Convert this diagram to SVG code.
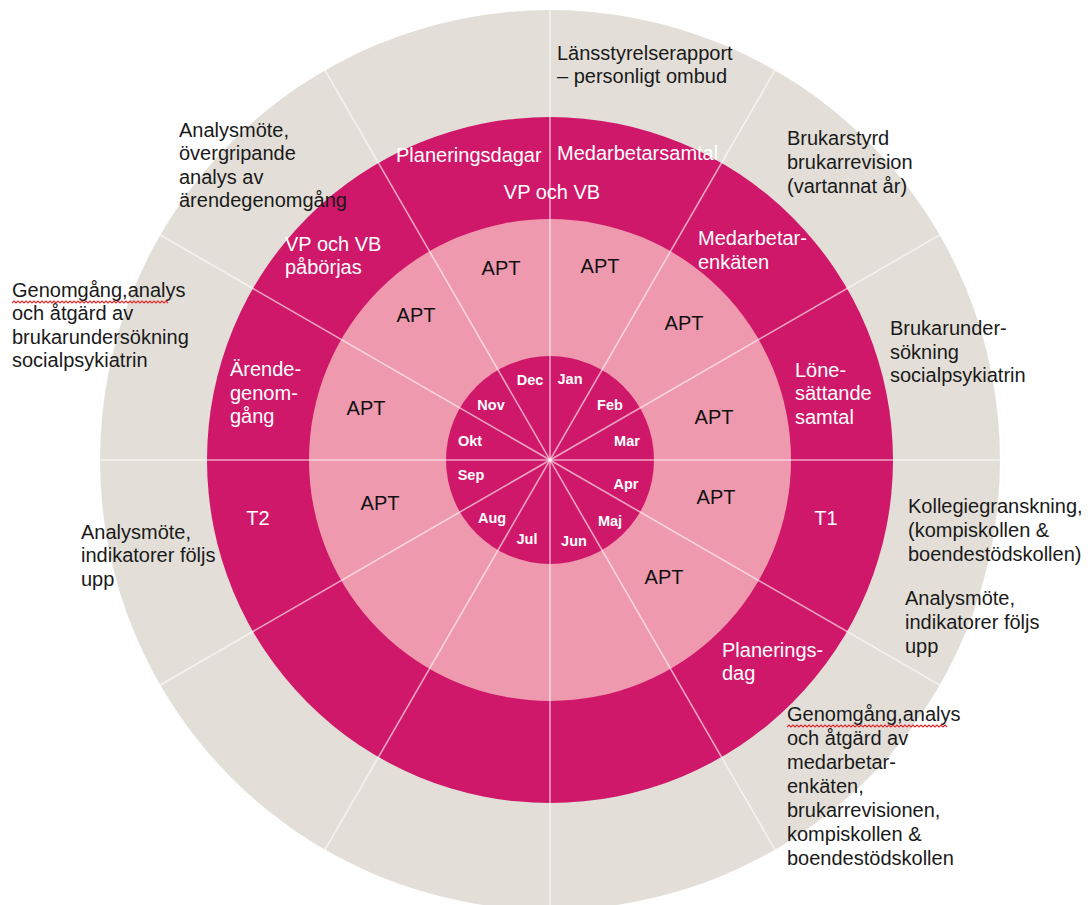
<svg xmlns="http://www.w3.org/2000/svg" width="1090" height="905" viewBox="0 0 1090 905">
<style>
.t{font-family:"Liberation Sans",Arial,sans-serif;font-size:20px;fill:#1a1a1a}
.w{font-family:"Liberation Sans",Arial,sans-serif;font-size:20px;fill:#ffffff}
.m{font-family:"Liberation Sans",Arial,sans-serif;font-size:14.5px;font-weight:bold;fill:#ffffff;text-anchor:middle}
.a{font-family:"Liberation Sans",Arial,sans-serif;font-size:20px;fill:#111;text-anchor:middle}
.c{text-anchor:middle}
.sp{fill:none;stroke:#e5262b;stroke-width:1.1}
.ln{stroke:#ffffff;stroke-opacity:0.6;stroke-width:1.6}
</style>
<rect width="1090" height="905" fill="#ffffff"/>
<g id="rings">
<circle id="outer-ring" cx="550" cy="460" r="450" fill="#E3DFD8"/>
<circle id="magenta-ring" cx="550" cy="460" r="343" fill="#D0186A"/>
<circle id="pink-ring" cx="550" cy="460" r="241" fill="#EF99AF"/>
<circle id="month-disc" cx="550" cy="460" r="104" fill="#D0186A"/>
</g>
<g id="connectors">
<line class="ln" x1="550" y1="10" x2="550" y2="910"/>
<line class="ln" x1="775" y1="70.3" x2="325" y2="849.7"/>
<line class="ln" x1="939.7" y1="235" x2="160.3" y2="685"/>
<line class="ln" x1="100" y1="460" x2="1000" y2="460"/>
<line class="ln" x1="939.7" y1="685" x2="160.3" y2="235"/>
<line class="ln" x1="775" y1="849.7" x2="325" y2="70.3"/>
</g>
<g id="months">
<text class="m" x="570" y="384">Jan</text>
<text class="m" x="610" y="410">Feb</text>
<text class="m" x="627" y="446">Mar</text>
<text class="m" x="626" y="489">Apr</text>
<text class="m" x="610" y="526">Maj</text>
<text class="m" x="574" y="546">Jun</text>
<text class="m" x="527" y="544">Jul</text>
<text class="m" x="492" y="523">Aug</text>
<text class="m" x="471" y="480">Sep</text>
<text class="m" x="470" y="446">Okt</text>
<text class="m" x="491" y="410">Nov</text>
<text class="m" x="530" y="385">Dec</text>
</g>
<g id="apt">
<text class="a" x="501" y="275">APT</text>
<text class="a" x="600" y="273">APT</text>
<text class="a" x="416" y="322">APT</text>
<text class="a" x="684" y="330">APT</text>
<text class="a" x="366" y="415">APT</text>
<text class="a" x="714" y="424">APT</text>
<text class="a" x="380" y="510">APT</text>
<text class="a" x="716" y="504">APT</text>
<text class="a" x="664" y="584">APT</text>
</g>
<g id="magenta-labels">
<g id="planeringsdagar"><text class="w" x="396" y="162">Planeringsdagar</text></g>
<g id="medarbetarsamtal"><text class="w" x="557" y="160">Medarbetarsamtal</text></g>
<g id="vp-vb"><text class="w c" x="552" y="199">VP och VB</text></g>
<g id="vp-vb-paborjas"><text class="w" x="285" y="251">VP och VB</text><text class="w" x="285" y="274">påbörjas</text></g>
<g id="medarbetarenkaten"><text class="w" x="698" y="245">Medarbetar-</text><text class="w" x="698" y="269">enkäten</text></g>
<g id="arendegenomgang"><text class="w" x="230" y="376">Ärende-</text><text class="w" x="230" y="400">genom-</text><text class="w" x="230" y="423">gång</text></g>
<g id="lonesattande"><text class="w" x="795" y="377">Löne-</text><text class="w" x="795" y="400">sättande</text><text class="w" x="795" y="424">samtal</text></g>
<g id="t2"><text class="w c" x="258" y="525">T2</text></g>
<g id="t1"><text class="w c" x="826" y="525">T1</text></g>
<g id="planeringsdag"><text class="w" x="722" y="657">Planerings-</text><text class="w" x="722" y="680">dag</text></g>
</g>
<g id="outer-labels">
<g id="lansstyrelse"><text class="t" x="557" y="60">Länsstyrelserapport</text><text class="t" x="557" y="83">– personligt ombud</text></g>
<g id="analysmote-top"><text class="t" x="179" y="137">Analysmöte,</text><text class="t" x="179" y="160">övergripande</text><text class="t" x="179" y="184">analys av</text><text class="t" x="179" y="207">ärendegenomgång</text></g>
<g id="brukarstyrd"><text class="t" x="787" y="145">Brukarstyrd</text><text class="t" x="787" y="169">brukarrevision</text><text class="t" x="787" y="193">(vartannat år)</text></g>
<g id="genomgang-left"><text class="t" x="12" y="297">Genomgång,analys</text><text class="t" x="12" y="320">och åtgärd av</text><text class="t" x="12" y="344">brukarundersökning</text><text class="t" x="12" y="367">socialpsykiatrin</text>
<path class="sp" d="M12 303 l2 -2 l2 2 l2 -2 l2 2 l2 -2 l2 2 l2 -2 l2 2 l2 -2 l2 2 l2 -2 l2 2 l2 -2 l2 2 l2 -2 l2 2 l2 -2 l2 2 l2 -2 l2 2 l2 -2 l2 2 l2 -2 l2 2 l2 -2 l2 2 l2 -2 l2 2 l2 -2 l2 2 l2 -2 l2 2 l2 -2 l2 2 l2 -2 l2 2 l2 -2 l2 2 l2 -2 l2 2 l2 -2 l2 2 l2 -2 l2 2 l2 -2 l2 2 l2 -2 l2 2 l2 -2 l2 2 l2 -2 l2 2 l2 -2 l2 2 l2 -2 l2 2 l2 -2 l2 2 l2 -2 l2 2 l2 -2 l2 2 l2 -2 l2 2 l2 -2 l2 2 l2 -2 l2 2 l2 -2 l2 2 l2 -2 l2 2 l2 -2 l2 2 l2 -2 l2 2 l2 -2 l2 2"/></g>
<g id="brukarundersokning"><text class="t" x="890" y="335">Brukarunder-</text><text class="t" x="890" y="359">sökning</text><text class="t" x="890" y="382">socialpsykiatrin</text></g>
<g id="analysmote-left"><text class="t" x="81" y="539">Analysmöte,</text><text class="t" x="81" y="562">indikatorer följs</text><text class="t" x="81" y="586">upp</text></g>
<g id="kollegiegranskning"><text class="t" x="908" y="513">Kollegiegranskning,</text><text class="t" x="908" y="537">(kompiskollen &amp;</text><text class="t" x="908" y="561">boendestödskollen)</text></g>
<g id="analysmote-right"><text class="t" x="905" y="605">Analysmöte,</text><text class="t" x="905" y="629">indikatorer följs</text><text class="t" x="905" y="653">upp</text></g>
<g id="genomgang-right"><text class="t" x="787" y="721">Genomgång,analys</text><text class="t" x="787" y="745">och åtgärd av</text><text class="t" x="787" y="769">medarbetar-</text><text class="t" x="787" y="793">enkäten,</text><text class="t" x="787" y="817">brukarrevisionen,</text><text class="t" x="787" y="841">kompiskollen &amp;</text><text class="t" x="787" y="865">boendestödskollen</text>
<path class="sp" d="M787 727 l2 -2 l2 2 l2 -2 l2 2 l2 -2 l2 2 l2 -2 l2 2 l2 -2 l2 2 l2 -2 l2 2 l2 -2 l2 2 l2 -2 l2 2 l2 -2 l2 2 l2 -2 l2 2 l2 -2 l2 2 l2 -2 l2 2 l2 -2 l2 2 l2 -2 l2 2 l2 -2 l2 2 l2 -2 l2 2 l2 -2 l2 2 l2 -2 l2 2 l2 -2 l2 2 l2 -2 l2 2 l2 -2 l2 2 l2 -2 l2 2 l2 -2 l2 2 l2 -2 l2 2 l2 -2 l2 2 l2 -2 l2 2 l2 -2 l2 2 l2 -2 l2 2 l2 -2 l2 2 l2 -2 l2 2 l2 -2 l2 2 l2 -2 l2 2 l2 -2 l2 2 l2 -2 l2 2 l2 -2 l2 2 l2 -2 l2 2 l2 -2 l2 2 l2 -2 l2 2 l2 -2 l2 2 l2 -2 l2 2"/></g>
</g>
</svg>
